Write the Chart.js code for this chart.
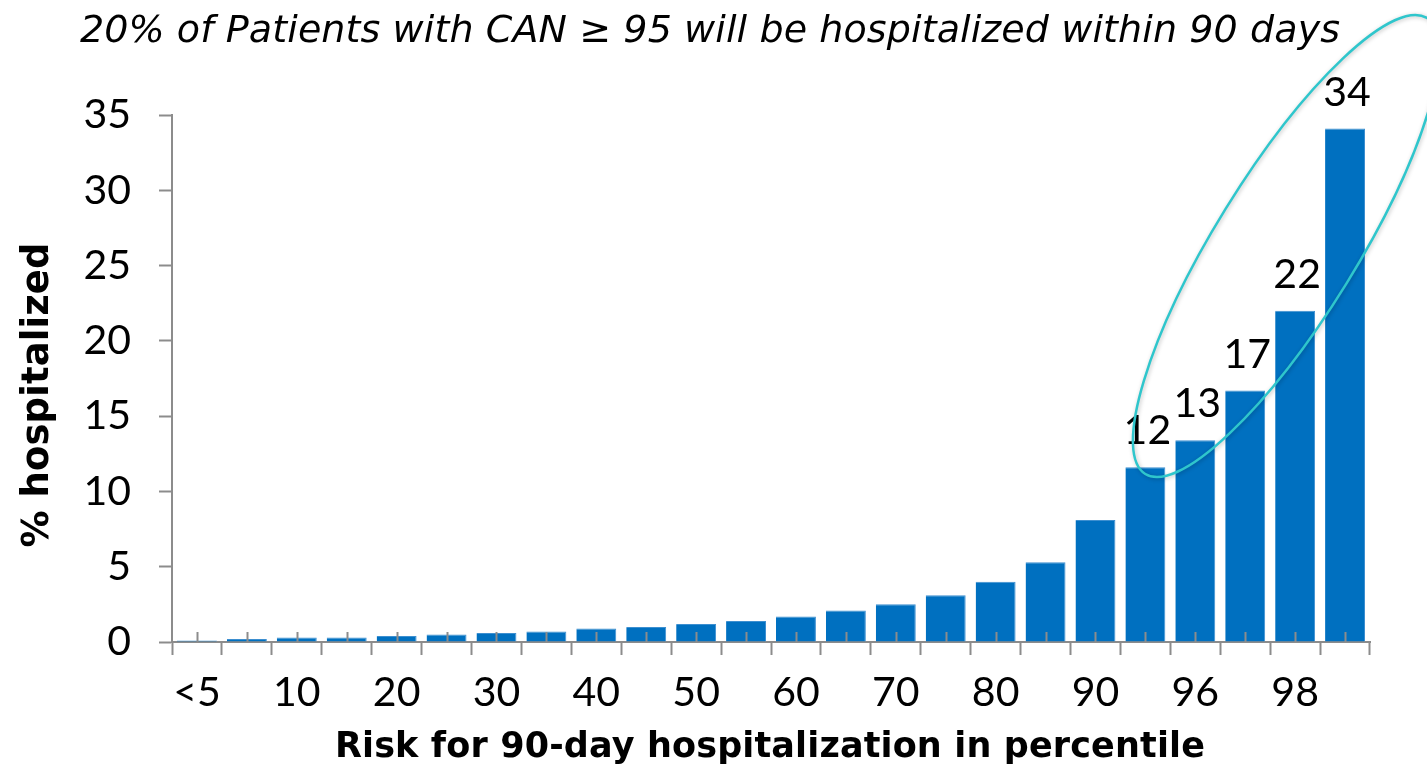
<!DOCTYPE html>
<html>
<head>
<meta charset="utf-8">
<script src="https://cdn.jsdelivr.net/npm/chart.js@4"></script>
<style>
  html, body { margin: 0; padding: 0; background: #fff; }
  #wrap { width: 1427px; height: 772px; }
</style>
</head>
<body>
<div id="wrap"><canvas id="risk-chart"></canvas></div>
<script>
// percentile bins (risk score) and % hospitalized within 90 days
const percentiles = ["<5", "5", "10", "15", "20", "25", "30", "35", "40", "45", "50", "55",
                     "60", "65", "70", "75", "80", "85", "90", "95", "96", "97", "98", "99"];
const hospitalized = [0.1, 0.2, 0.3, 0.3, 0.4, 0.5, 0.6, 0.7, 0.9, 1.0, 1.2, 1.4,
                      1.7, 2.1, 2.5, 3.1, 4.0, 5.3, 8.1, 11.6, 13.4, 16.7, 22.0, 34.1];
// value labels shown above the top bins (CAN >= 95)
const topLabels = ["12", "13", "17", "22", "34"];
const firstLabelled = percentiles.length - topLabels.length;

const yTicks = [0, 5, 10, 15, 20, 25, 30, 35];

const chartTitle = "20% of Patients with CAN \u2265 95 will be hospitalized within 90 days";
const xTitle = "Risk for 90-day hospitalization in percentile";
const yTitle = "% hospitalized";

const NUM_FONT = "Lato, 'Open Sans', sans-serif";
const TXT_FONT = "'DejaVu Sans', sans-serif";
const axisGray = "#8c8c8c";

// the slide font is much wider, so stretch text to the width it has there
function fitText(ctx, text, font, width) {
    ctx.font = font;
    ctx.letterSpacing = "0px";
    const w = ctx.measureText(text).width;
    ctx.letterSpacing = ((width - w) / (text.length - 1)).toFixed(2) + "px";
}

const titles = {
    id: "titles",
    afterDraw(chart) {
        const ctx = chart.ctx;
        ctx.save();
        ctx.fillStyle = "#000";
        ctx.textAlign = "center";
        ctx.textBaseline = "alphabetic";

        fitText(ctx, chartTitle, "oblique 38px " + TXT_FONT, 1260);
        ctx.fillText(chartTitle, 710, 42);

        fitText(ctx, xTitle, "bold 35px " + TXT_FONT, 870);
        ctx.fillText(xTitle, 770, 757);

        fitText(ctx, yTitle, "bold 37px " + TXT_FONT, 305);
        ctx.translate(48, 395);
        ctx.rotate(-Math.PI / 2);
        ctx.fillText(yTitle, 0, 0);
        ctx.restore();
    },
};

// little upward ticks at bar centres, value labels and the highlight ellipse
const extras = {
    id: "extras",
    afterDatasetsDraw(chart) {
        const ctx = chart.ctx;
        const x = chart.scales.x;
        const y = chart.scales.y;
        const y0 = y.getPixelForValue(0);

        ctx.save();
        ctx.strokeStyle = axisGray;
        ctx.lineWidth = 2;
        for (let i = 0; i < percentiles.length; i++) {
            const px = Math.round(x.getPixelForValue(i)) + 0.5;
            ctx.beginPath();
            ctx.moveTo(px, y0);
            ctx.lineTo(px, y0 - 10);
            ctx.stroke();
        }

        const meta = chart.getDatasetMeta(0);
        ctx.fillStyle = "#000";
        ctx.font = "41px " + NUM_FONT;
        ctx.textAlign = "center";
        ctx.textBaseline = "alphabetic";
        topLabels.forEach(function (t, k) {
            const bar = meta.data[firstLabelled + k];
            ctx.fillText(t, bar.x + 2, bar.y - 23);
        });

        // ellipse round the CAN >= 95 bins
        const cx = x.getPixelForValue(21.82);
        const cy = y.getPixelForValue(26.3);
        ctx.strokeStyle = "#2fc6cc";
        ctx.lineWidth = 2.5;
        ctx.shadowColor = "rgba(0,0,0,0.25)";
        ctx.shadowBlur = 4;
        ctx.shadowOffsetX = 1;
        ctx.shadowOffsetY = 1;
        ctx.beginPath();
        ctx.ellipse(cx, cy, 268, 71, -58.3 * Math.PI / 180, 0, Math.PI * 2);
        ctx.stroke();
        ctx.restore();
    },
};

new Chart(document.getElementById("risk-chart"), {
    type: "bar",
    data: {
        labels: percentiles,
        datasets: [
            {
                data: hospitalized,
                backgroundColor: "#0070c0",
                borderColor: "#3d8fd0",
                borderWidth: { top: 1, right: 1, left: 0, bottom: 0 },
                barPercentage: 0.8,
                categoryPercentage: 1.0,
            },
        ],
    },
    plugins: [extras, titles],
    options: {
        responsive: true,
        maintainAspectRatio: false,
        animation: false,
        layout: {
            padding: { left: 0, right: 57, top: 115, bottom: 0 },
        },
        scales: {
            x: {
                grid: {
                    drawOnChartArea: false,
                    drawTicks: true,
                    tickLength: 13,
                    tickWidth: 2,
                    color: axisGray,
                },
                border: { display: true, color: axisGray, width: 2 },
                ticks: {
                    autoSkip: false,
                    maxRotation: 0,
                    padding: 13,
                    color: "#000",
                    font: { family: NUM_FONT, size: 41 },
                    callback: function (value, index) {
                        return index % 2 === 0 ? percentiles[index] : "";
                    },
                },
                afterFit: function (scale) {
                    scale.height = 130;
                },
            },
            y: {
                min: 0,
                max: 35,
                afterBuildTicks: function (scale) {
                    scale.ticks = yTicks.map(function (v) { return { value: v }; });
                },
                grid: {
                    drawOnChartArea: false,
                    drawTicks: true,
                    tickLength: 13,
                    tickWidth: 2,
                    color: axisGray,
                },
                border: { display: true, color: axisGray, width: 2 },
                ticks: {
                    padding: 28,
                    color: "#000",
                    font: { family: NUM_FONT, size: 41 },
                },
                afterFit: function (scale) {
                    scale.width = 172;
                },
            },
        },
        plugins: {
            legend: { display: false },
            tooltip: { enabled: false },
            title: { display: false },
        },
    },
});
</script>
</body>
</html>
